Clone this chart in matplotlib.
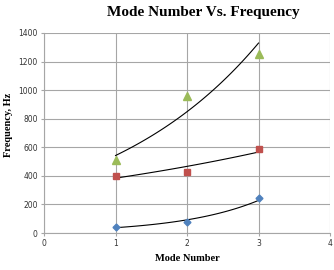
import numpy as np
import matplotlib
matplotlib.use("Agg")
import matplotlib.pyplot as plt

modes = [1, 2, 3]
series_a = [40, 80, 245]
series_b = [400, 430, 590]
series_c = [510, 960, 1250]
xticks = [0, 1, 2, 3, 4]
yticks = [0, 200, 400, 600, 800, 1000, 1200, 1400]

colors = ["#4F81BD", "#C0504D", "#9BBB59"]
markers = ["D", "s", "^"]
sizes = [3.5, 5, 5.5]

fig = plt.figure(figsize=(3.34, 2.70), dpi=100)
ax = fig.add_axes([0.132, 0.137, 0.856, 0.741])

x = np.array(modes, dtype=float)
xs = np.linspace(1, 3, 100)
for ys, c, m, s in zip([series_a, series_b, series_c], colors, markers, sizes):
    ys = np.array(ys, dtype=float)
    b, a = np.polyfit(x, np.log(ys), 1)
    ax.plot(xs, np.exp(a + b * xs), color="black", lw=0.8, zorder=2)
    ax.plot(x, ys, linestyle="none", marker=m, color=c, markersize=s, zorder=3)

ax.set_xlim(0, 4)
ax.set_ylim(0, 1400)
ax.set_xticks(xticks)
ax.set_yticks(yticks)
ax.grid(True, color="#A6A6A6", lw=0.8)
ax.set_axisbelow(True)
for sp in ["top", "right"]:
    ax.spines[sp].set_visible(False)
for sp in ["left", "bottom"]:
    ax.spines[sp].set_color("#A6A6A6")
    ax.spines[sp].set_linewidth(0.8)
ax.tick_params(labelsize=5.5, length=2.5, pad=2, color="#A6A6A6", labelcolor="#333333")

serif = "Liberation Serif"
fig.text(0.61, 0.952, "Mode Number Vs. Frequency", ha="center", va="center",
         fontsize=11, fontweight="bold", family=serif)
ax.set_xlabel("Mode Number", fontsize=7.5, fontweight="bold", family=serif, labelpad=4)
ax.set_ylabel("Frequency, Hz", fontsize=7.5, fontweight="bold", family=serif)
ax.yaxis.set_label_coords(-0.11, 0.54)

fig.savefig("out.png", dpi=100)
